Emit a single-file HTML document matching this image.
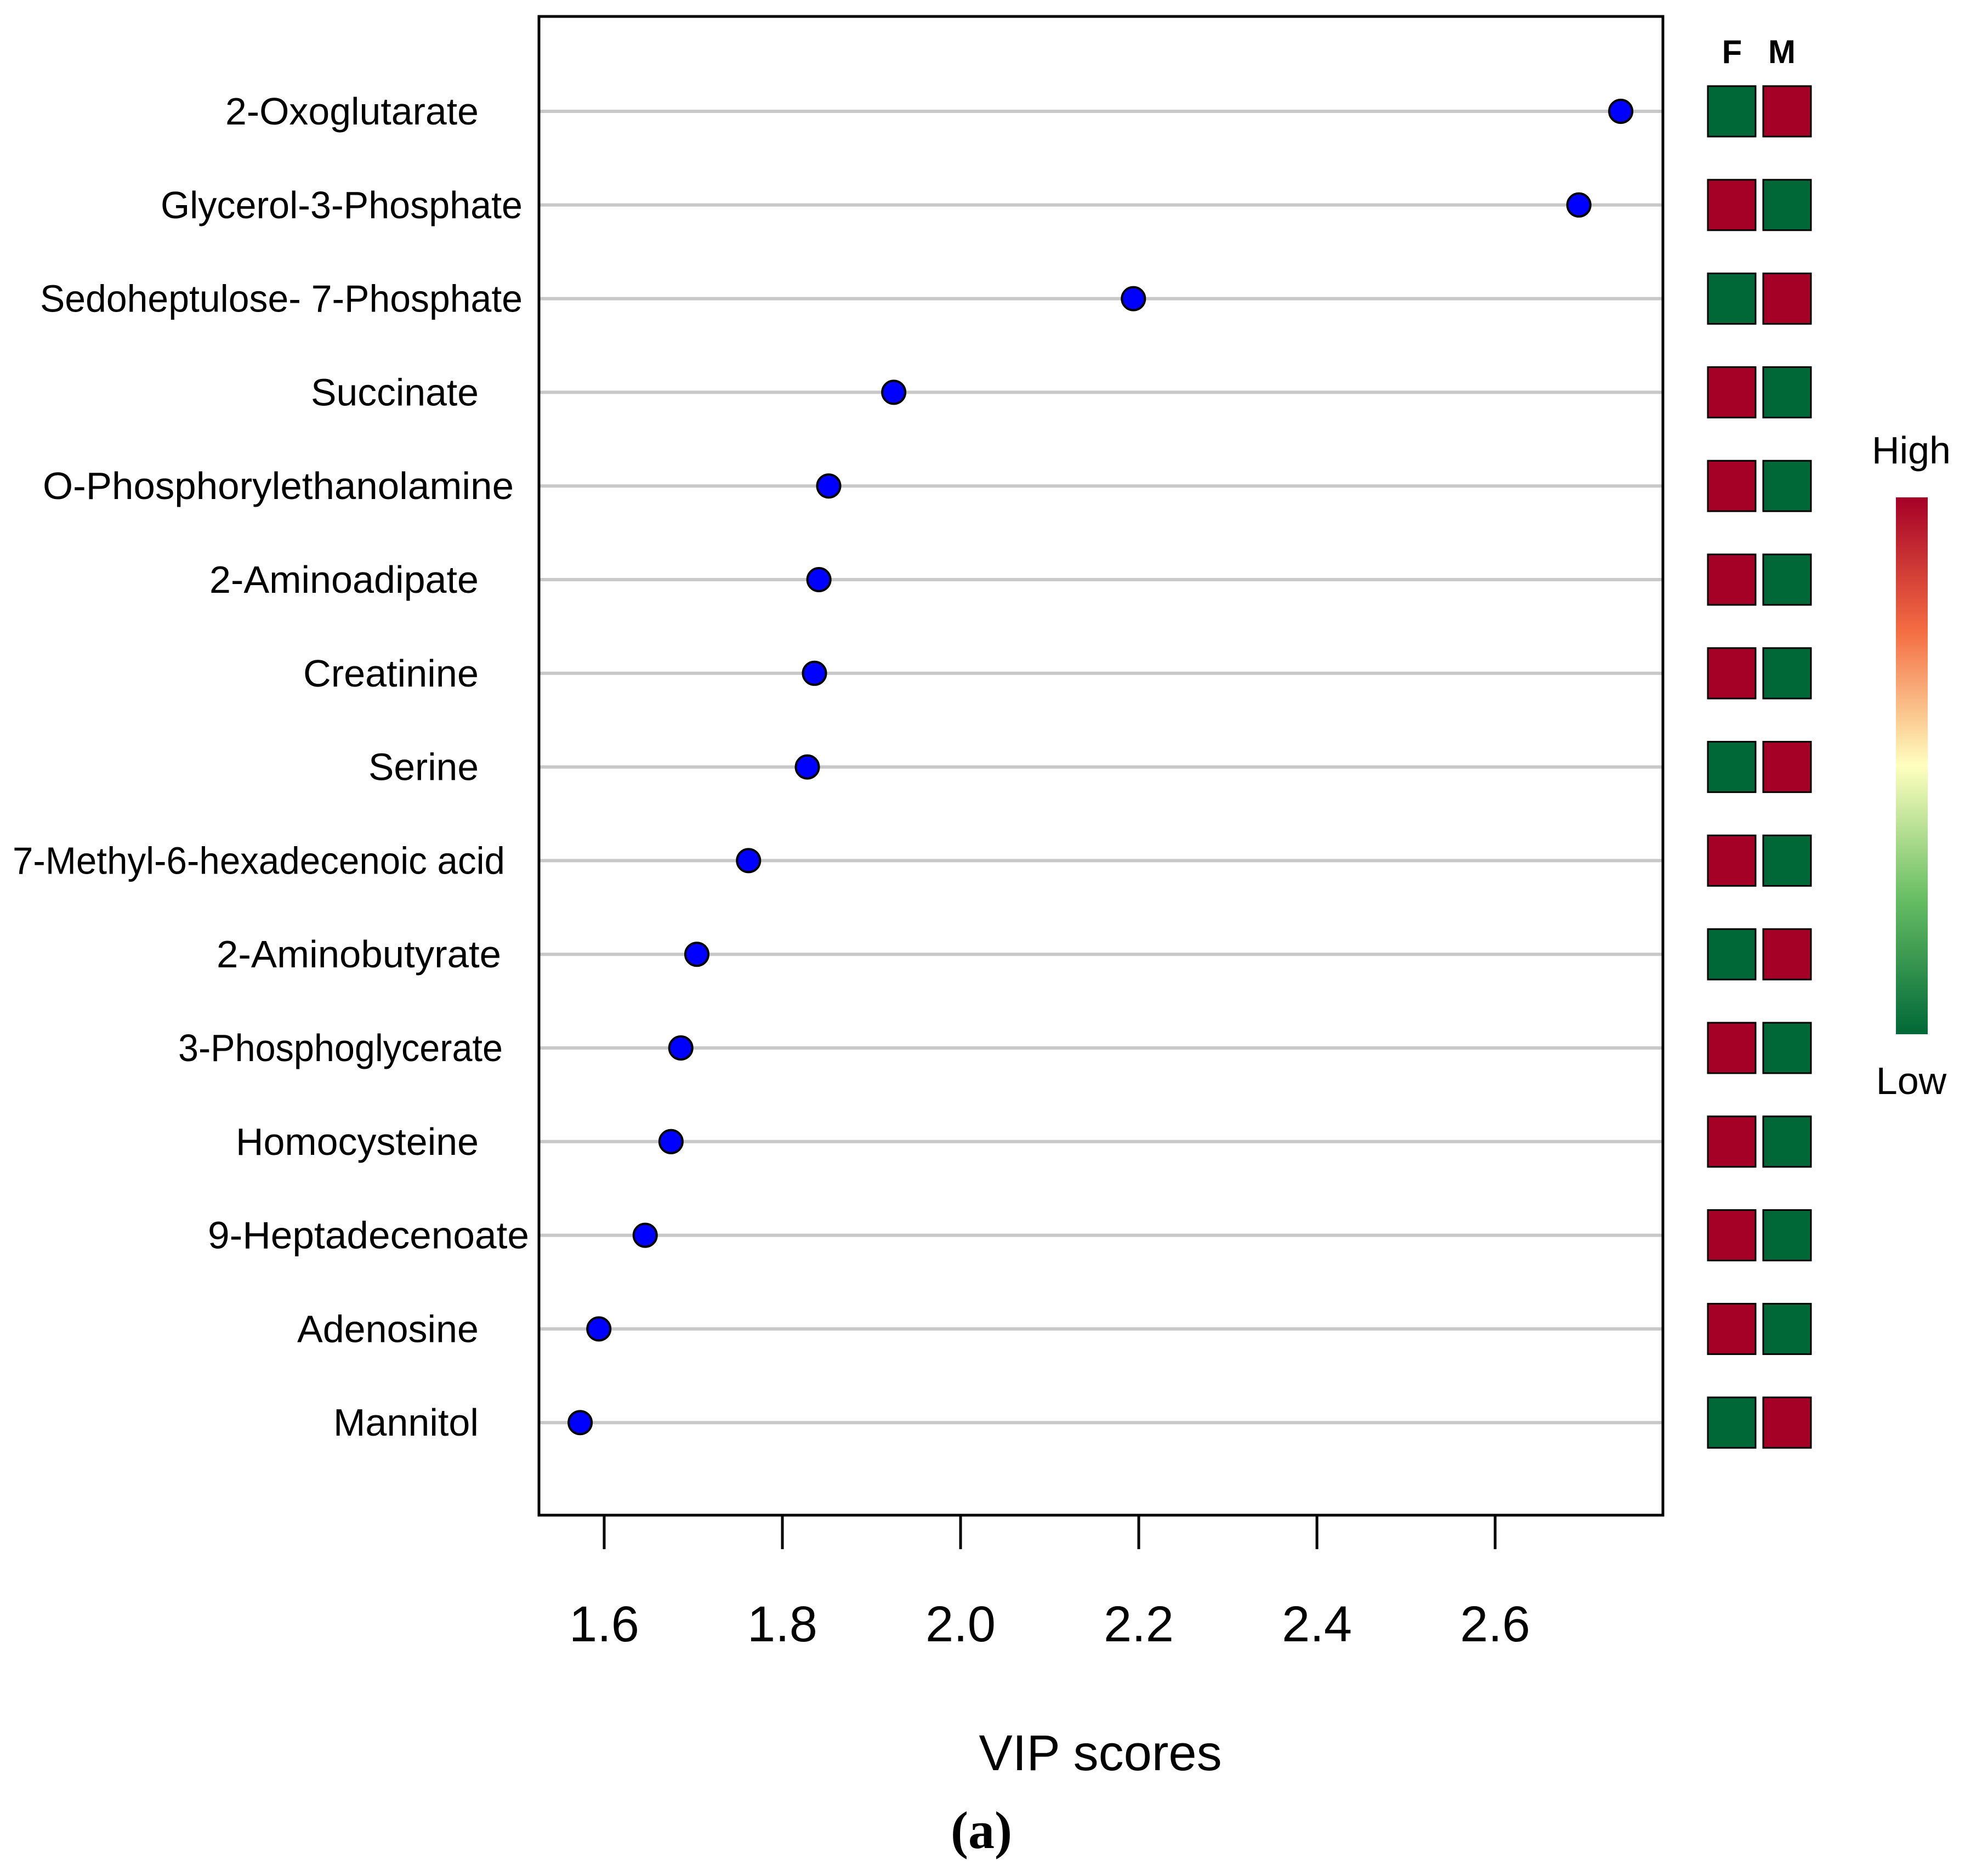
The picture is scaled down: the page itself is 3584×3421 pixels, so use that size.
<!DOCTYPE html>
<html><head><meta charset="utf-8"><style>
html,body{margin:0;padding:0;background:#fff;}
svg{display:block;}
</style></head><body>
<svg id="chart" width="3584" height="3421" viewBox="0 0 3584 3421" xmlns="http://www.w3.org/2000/svg">
<defs>
<linearGradient id="cb" x1="0" y1="1" x2="0" y2="0">
<stop offset="0" stop-color="#006837"/><stop offset="0.25" stop-color="#66bd63"/>
<stop offset="0.5" stop-color="#ffffbf"/><stop offset="0.75" stop-color="#f46d43"/>
<stop offset="1" stop-color="#a50026"/></linearGradient>
</defs>
<g id="grid"></g>
<rect x="983" y="30" width="2050" height="2733" fill="none" stroke="#000" stroke-width="5"/>
<g id="ticks"></g>
<g id="labels"></g>
<g id="dots"></g>
<g id="heat"></g>
<text x="3159" y="115" font-family="Liberation Sans, sans-serif" font-weight="bold" font-size="60" text-anchor="middle">F</text>
<text x="3250" y="115" font-family="Liberation Sans, sans-serif" font-weight="bold" font-size="60" text-anchor="middle">M</text>
<rect x="3458" y="907" width="58" height="979" fill="url(#cb)"/>
<text x="3486" y="845" font-family="Liberation Sans, sans-serif" font-size="70" text-anchor="middle">High</text>
<text x="3486" y="1995" font-family="Liberation Sans, sans-serif" font-size="70" text-anchor="middle">Low</text>
<text x="2007" y="3228" font-family="Liberation Sans, sans-serif" font-size="92" text-anchor="middle">VIP scores</text>
<text x="1790" y="3370" font-family="Liberation Serif, serif" font-weight="bold" font-size="96" text-anchor="middle">(a)</text>
</svg>
<script>
const names=["2-Oxoglutarate","Glycerol-3-Phosphate","Sedoheptulose- 7-Phosphate","Succinate","O-Phosphorylethanolamine","2-Aminoadipate","Creatinine","Serine","7-Methyl-6-hexadecenoic acid","2-Aminobutyrate","3-Phosphoglycerate","Homocysteine","9-Heptadecenoate","Adenosine","Mannitol"];
const vip=[2.741,2.694,2.194,1.925,1.852,1.841,1.836,1.828,1.762,1.704,1.686,1.675,1.646,1.594,1.573];
const femaleHigh=[0,1,0,1,1,1,1,0,1,0,1,1,1,1,0];
const tickVals=[1.6,1.8,2.0,2.2,2.4,2.6];
const tickLabels=["1.6","1.8","2.0","2.2","2.4","2.6"];
const labelRight=[873,953,953,873,937,873,873,873,921,914,917,873,965,873,873];
const labelLeft=[411,293,73,567,78,382,553,672,23,395,325,430,379,542,608];
const NS="http://www.w3.org/2000/svg";
const xs=v=>1102+(v-1.6)*(2727-1102);
const ys=i=>203+i*170.8;
function mk(tag,attrs,parent){const e=document.createElementNS(NS,tag);for(const k in attrs)e.setAttribute(k,attrs[k]);document.getElementById(parent).appendChild(e);return e;}
const RED="#a50026",GREEN="#006837";
names.forEach((n,i)=>{
 const y=ys(i);
 const g=mk("line",{x1:985,x2:3031,y1:y,y2:y,stroke:"#c8c8c8","stroke-width":6},"grid");
 
 
 const t=mk("text",{x:labelLeft[i],y:y+24,"font-family":"Liberation Sans, sans-serif","font-size":70,textLength:labelRight[i]-labelLeft[i],lengthAdjust:"spacingAndGlyphs"},"labels");
 t.textContent=n;
 
 
 const c=mk("circle",{cx:xs(vip[i]),cy:y,r:21,fill:"#0000ff",stroke:"#000","stroke-width":4},"dots");
 
 
 const f=mk("rect",{x:3115,y:y-46,width:87,height:92,fill:femaleHigh[i]?RED:GREEN,stroke:"#000","stroke-width":3},"heat");
 
 
 const m=mk("rect",{x:3216,y:y-46,width:87,height:92,fill:femaleHigh[i]?GREEN:RED,stroke:"#000","stroke-width":3},"heat");
 
 
});
tickVals.forEach((v,i)=>{
 const x=xs(v);
 const l=mk("line",{x1:x,x2:x,y1:2763,y2:2825,stroke:"#000","stroke-width":5},"ticks");
 
 
 const t=mk("text",{x:x,y:2993,"font-family":"Liberation Sans, sans-serif","font-size":92,"text-anchor":"middle"},"ticks");
 t.textContent=tickLabels[i];
 
 
});
</script>
</body></html>
